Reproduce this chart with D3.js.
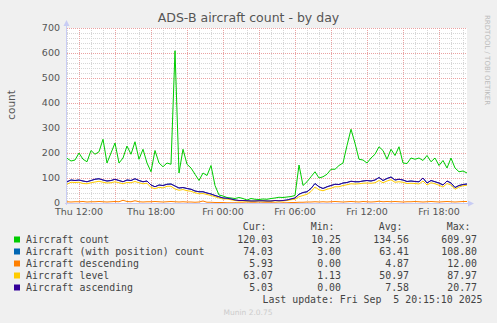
<!DOCTYPE html>
<html><head><meta charset="utf-8">
<script src="https://cdn.jsdelivr.net/npm/d3@7"></script>
<style>
html,body{margin:0;padding:0;background:#f0f0f0;}
svg{display:block;}
</style></head>
<body>
<script>
// ---- data (samples every 20 minutes starting Thu Sep 4 2025 11:00) ----
const aircraftCount = [179,168,172,200,175,165,210,195,205,255,160,200,240,160,180,228,195,245,175,215,160,125,210,160,145,160,155,609,120,215,155,140,115,90,120,110,150,70,32,28,22,20,18,22,18,12,18,15,14,16,15,18,20,23,22,24,26,30,152,70,85,105,125,100,105,115,135,135,150,160,230,295,239,175,172,160,180,195,225,210,175,215,190,225,160,158,180,175,180,170,190,165,180,150,170,140,180,140,125,128,120];
const withPosition = [85,92,90,92,88,85,90,95,97,92,88,90,95,90,85,92,90,97,90,85,88,72,65,72,70,75,76,68,60,62,58,55,48,45,45,40,36,30,25,20,19,16,12,10,10,9,8,8,9,9,8,8,10,9,10,12,16,20,35,42,45,58,78,65,58,65,70,75,74,80,82,87,85,85,88,90,88,92,102,90,98,104,92,95,92,86,88,86,85,100,80,90,85,80,72,88,80,62,70,74,76];
const descending = [5,4,5,5,6,4,5,5,6,5,4,5,6,5,11,6,5,9,5,4,5,5,6,5,4,5,6,5,4,5,4,4,3,4,8,3,3,2,2,2,1,1,1,1,1,0,1,1,0,1,1,1,1,0,1,1,2,2,3,3,4,4,5,4,5,4,5,6,5,4,5,6,5,4,6,5,4,5,7,5,6,5,6,5,4,5,5,6,5,4,5,6,5,4,5,6,5,4,5,6,6];
const level = [70,79,77,78,72,73,76,79,81,78,76,76,79,76,66,76,76,77,76,73,74,57,51,58,56,62,61,51,47,49,45,43,38,33,30,31,27,23,18,14,15,12,9,7,7,7,6,6,8,7,6,6,8,8,7,9,11,13,22,27,31,42,59,49,44,51,54,59,60,66,68,71,71,73,73,75,75,76,83,76,82,88,77,80,79,73,74,72,71,84,67,75,72,67,59,72,67,51,59,63,65];
const ascending = [10,9,8,9,10,8,9,11,10,9,8,9,10,9,8,10,9,11,9,8,9,10,8,9,10,8,9,12,9,8,9,8,7,8,7,6,6,5,5,4,3,3,2,2,2,2,1,1,1,1,1,1,1,1,2,2,3,5,10,12,10,12,14,12,9,10,11,10,9,10,9,10,9,8,9,10,9,11,12,9,10,11,9,10,9,8,9,8,9,12,8,9,8,9,8,10,8,7,6,5,5];

const seriesNames = ["Aircraft count","Aircraft (with position) count","Aircraft descending","Aircraft level","Aircraft ascending"];
const seriesColors = ["#00cc00","#0066b3","#ff8000","#ffcc00","#330099"];
const curVals = ["120.03","74.03","5.93","63.07","5.03"];
const minVals = ["10.25","3.00","0.00","1.13","0.00"];
const avgVals = ["134.56","63.41","4.87","50.97","7.58"];
const maxVals = ["609.97","108.80","12.00","87.97","20.77"];
const yTicks = [0,100,200,300,400,500,600,700];
const titleText = "ADS-B aircraft count - by day";
const lastUpdate = "Last update: Fri Sep  5 20:15:10 2025";

// ---- layout ----
const W = 497, H = 323;
const L = 67, R = 467, T = 28, B = 203;
const start = new Date(2025, 8, 4, 11, 0, 0);
const end = new Date(start.getTime() + 400 * 300 * 1000);
const step = 20 * 60 * 1000;
const times = aircraftCount.map((d, i) => new Date(start.getTime() + i * step));

const x = d3.scaleTime().domain([start, end]).range([L, R]);
const y = d3.scaleLinear().domain([0, 700]).range([B, T]);

const svg = d3.select("body").append("svg").attr("width", W).attr("height", H);
svg.append("rect").attr("width", W).attr("height", H).attr("fill", "#f0f0f0");
svg.append("rect").attr("x", L).attr("y", T).attr("width", R - L).attr("height", B - T).attr("fill", "#ffffff");

const g = svg.append("g");
// minor grid
const minorY = d3.range(0, 701, 20).filter(v => v % 100 !== 0);
g.selectAll(".mgy").data(minorY).join("line")
  .attr("x1", L).attr("x2", R).attr("y1", d => Math.round(y(d)) + 0.5).attr("y2", d => Math.round(y(d)) + 0.5)
  .attr("stroke", "#d6d6d6").attr("stroke-dasharray", "1,1").attr("shape-rendering", "crispEdges");
const hours = d3.timeHour.range(start, end);
g.selectAll(".mgx").data(hours.filter(h => h.getHours() % 3 !== 0)).join("line")
  .attr("y1", T).attr("y2", B).attr("x1", d => Math.round(x(d)) + 0.5).attr("x2", d => Math.round(x(d)) + 0.5)
  .attr("stroke", "#d6d6d6").attr("stroke-dasharray", "1,1").attr("shape-rendering", "crispEdges");
// major grid
g.selectAll(".Mgy").data(yTicks.filter(v => v > 0)).join("line")
  .attr("x1", L).attr("x2", R).attr("y1", d => Math.round(y(d)) + 0.5).attr("y2", d => Math.round(y(d)) + 0.5)
  .attr("stroke", "#eaa2a2").attr("stroke-dasharray", "1,1").attr("shape-rendering", "crispEdges");
g.selectAll(".Mgx").data(hours.filter(h => h.getHours() % 3 === 0)).join("line")
  .attr("y1", T).attr("y2", B).attr("x1", d => Math.round(x(d)) + 0.5).attr("x2", d => Math.round(x(d)) + 0.5)
  .attr("stroke", "#eaa2a2").attr("stroke-dasharray", "1,1").attr("shape-rendering", "crispEdges");

// y tick labels
svg.selectAll(".yl").data(yTicks).join("text")
  .attr("x", 60).attr("y", d => y(d) + 3.2).attr("text-anchor", "end")
  .attr("font-family", "DejaVu Sans").attr("font-size", "9.5px").attr("fill", "#555")
  .text(d => d);
// x tick labels
const xLabels = hours.filter(h => h.getHours() % 6 === 0);
svg.selectAll(".xl").data(xLabels).join("text")
  .attr("x", d => x(d)).attr("y", 215).attr("text-anchor", "middle")
  .attr("font-family", "DejaVu Sans").attr("font-size", "9.5px").attr("fill", "#555")
  .text(d3.timeFormat("%a %H:%M"));

// series
const line = d3.line().x((d, i) => x(times[i])).y(d => y(d));
const stackedLevel = level.map((v, i) => v + descending[i]);
const stackedAsc = ascending.map((v, i) => v + stackedLevel[i]);
const drawn = [aircraftCount, withPosition, descending, stackedLevel, stackedAsc];
const cg = svg.append("g");
drawn.forEach((arr, k) => {
  cg.append("path").datum(arr).attr("d", line)
    .attr("fill", "none").attr("stroke", seriesColors[k]).attr("stroke-width", 1)
    .attr("stroke-linejoin", "miter");
});

// axes
const axCol = "#c8ccf4";
svg.append("line").attr("x1", L - 0.5).attr("x2", L - 0.5).attr("y1", B + 2).attr("y2", 22)
  .attr("stroke", axCol).attr("shape-rendering", "crispEdges");
svg.append("path").attr("d", `M${L - 3.5},${26} L${L - 0.5},${20} L${L + 2.5},${26} Z`).attr("fill", axCol);
svg.append("line").attr("x1", L - 2).attr("x2", R + 3).attr("y1", B + 0.5).attr("y2", B + 0.5)
  .attr("stroke", axCol).attr("shape-rendering", "crispEdges");
svg.append("path").attr("d", `M${R + 1},${B - 2.5} L${R + 7},${B + 0.5} L${R + 1},${B + 3.5} Z`).attr("fill", axCol);

// title
svg.append("text").attr("x", 248.5).attr("y", 22).attr("text-anchor", "middle")
  .attr("font-family", "DejaVu Sans").attr("font-size", "12.5px").attr("fill", "#555").text(titleText);
// y label
svg.append("text").attr("transform", "translate(15,105) rotate(-90)").attr("text-anchor", "middle")
  .attr("font-family", "DejaVu Sans").attr("font-size", "10.5px").attr("fill", "#555").text("count");
// watermark
svg.append("text").attr("transform", "translate(485,15) rotate(90)").attr("text-anchor", "start")
  .attr("font-family", "DejaVu Sans").attr("font-size", "7px").attr("fill", "#bbbbbb").text("RRDTOOL / TOBI OETIKER");

// legend
const mono = "DejaVu Sans Mono";
const lf = "9.9px";
const lcol = "#444";
const colEnds = [273, 341, 409, 477];
const heads = ["Cur:", "Min:", "Avg:", "Max:"];
svg.selectAll(".hd").data(heads).join("text")
  .attr("x", (d, i) => colEnds[i] - 6.5).attr("y", 230.3).attr("text-anchor", "end")
  .attr("font-family", mono).attr("font-size", lf).attr("fill", lcol).text(d => d);
const rowY = i => 242.8 + i * 12;
seriesNames.forEach((name, i) => {
  svg.append("rect").attr("x", 14).attr("y", rowY(i) - 6.3).attr("width", 6).attr("height", 6).attr("fill", seriesColors[i]);
  svg.append("text").attr("x", 26).attr("y", rowY(i)).attr("font-family", mono).attr("font-size", lf).attr("fill", lcol).text(name);
  [curVals, minVals, avgVals, maxVals].forEach((arr, c) => {
    svg.append("text").attr("x", colEnds[c]).attr("y", rowY(i)).attr("text-anchor", "end")
      .attr("font-family", mono).attr("font-size", lf).attr("fill", lcol).text(arr[i]);
  });
});
svg.append("text").attr("x", 482.5).attr("y", 302.8).attr("text-anchor", "end")
  .attr("font-family", mono).attr("font-size", lf).attr("fill", lcol)
  .attr("xml:space", "preserve").style("white-space", "pre").text(lastUpdate);
svg.append("text").attr("x", 248).attr("y", 314.5).attr("text-anchor", "middle")
  .attr("font-family", "DejaVu Sans").attr("font-size", "7.5px").attr("fill", "#cccccc").text("Munin 2.0.75");
</script>
</body></html>
